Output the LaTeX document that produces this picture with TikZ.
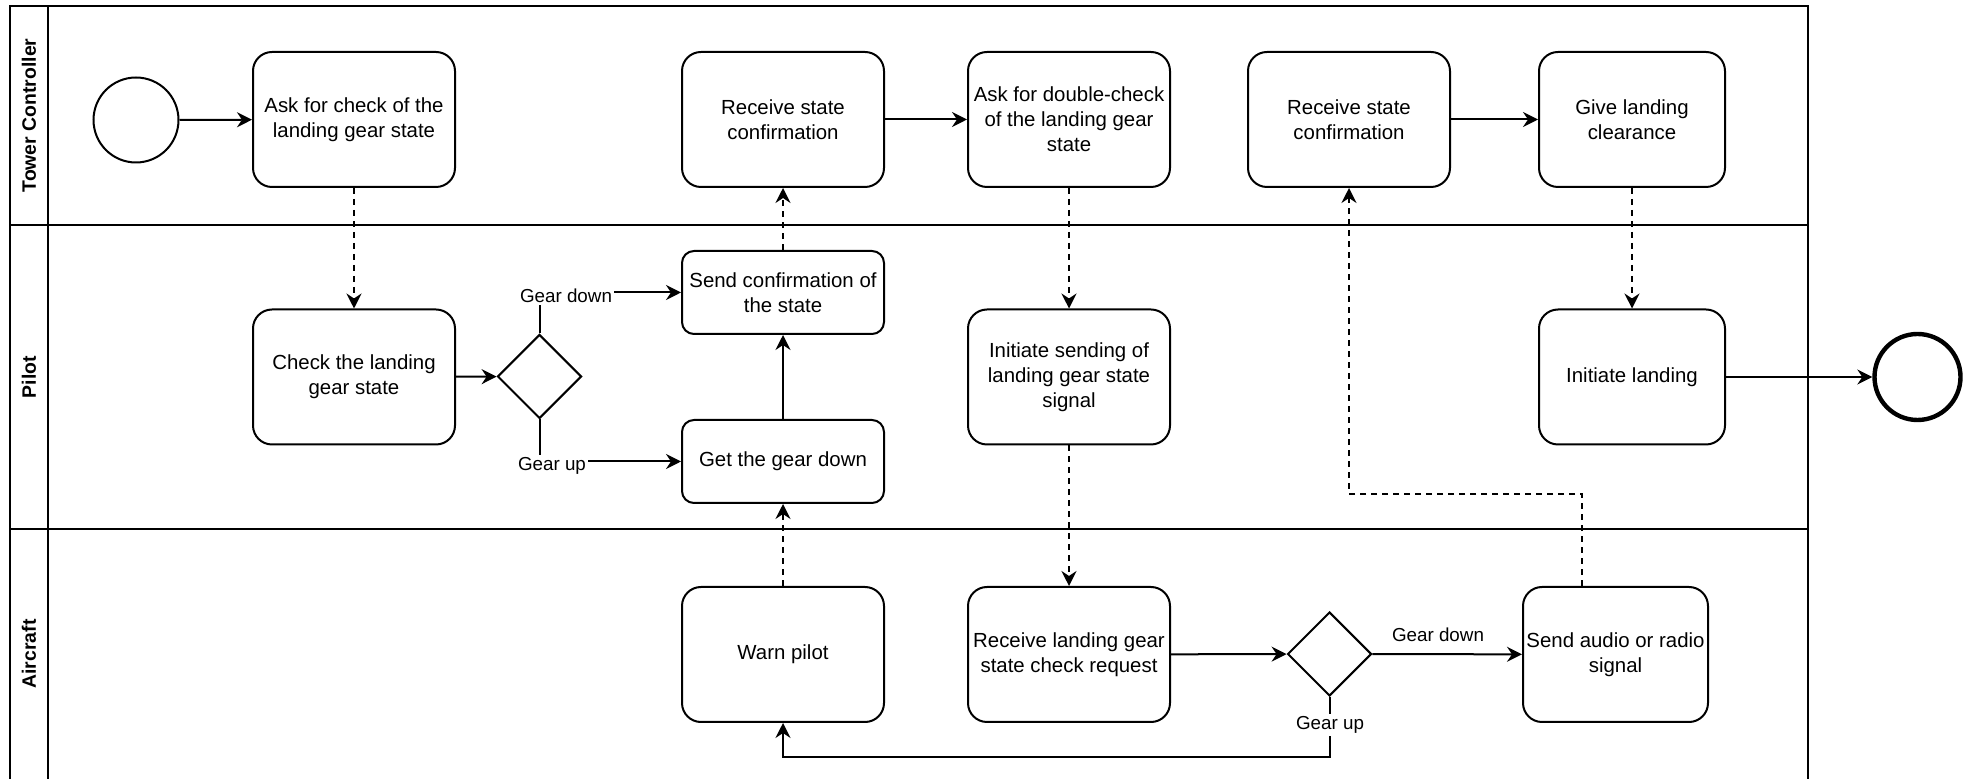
\documentclass[tikz,border=0pt]{standalone}
\usepackage{fontspec}
\setmainfont{Liberation Sans}
\usetikzlibrary{arrows.meta,shapes.geometric}

\begin{document}
\begin{tikzpicture}[x=0.5pt,y=-0.5pt,
  every node/.style={font=\fontsize{10.2pt}{12.5pt}\selectfont},
  task/.style={draw, line width=1pt, rounded corners=9.5pt, minimum width=101pt,
    minimum height=67.5pt, align=center, inner sep=1pt},
  shorttask/.style={task, rounded corners=6pt, minimum height=41.5pt},
  gate/.style={draw, diamond, line width=1pt, minimum width=42pt, minimum height=42pt, inner sep=0pt},
  startev/.style={draw, circle, line width=1pt, minimum size=42.5pt, inner sep=0pt},
  endev/.style={draw, circle, line width=2.2pt, minimum size=43pt, inner sep=0pt},
  lane/.style={line width=1pt},
  lanetitle/.style={rotate=90, font=\fontsize{9.7pt}{11pt}\selectfont\bfseries},
  flow/.style={line width=1pt, -{Stealth[length=7.5pt,width=7.5pt,inset=2.5pt]}},
  msg/.style={flow, dash pattern=on 3pt off 2.5pt},
  elabel/.style={fill=white, inner sep=1pt, font=\fontsize{9.4pt}{11pt}\selectfont},
]
\useasboundingbox (0,0) rectangle (1971,779);

% pool frame and lanes
\draw[lane] (10,779) -- (10,6) -- (1808,6) -- (1808,779);
\draw[lane] (48,6) -- (48,779);
\draw[lane] (10,225) -- (1808,225);
\draw[lane] (10,529) -- (1808,529);

\node[lanetitle] (ltower) at (29,115.5) {Tower Controller};
\node[lanetitle] (lpilot) at (29,377) {Pilot};
\node[lanetitle] (lplane) at (29,654) {Aircraft};

% tower controller lane
\node[startev] (start) at (136,120) {};
\node[task] (ask) at (354,119.5) {Ask for check of the\\landing gear state};
\node[task] (recv1) at (783,119.5) {Receive state\\confirmation};
\node[task] (askdbl) at (1069,119.5) {Ask for double-check\\of the landing gear\\state};
\node[task] (recv2) at (1349,119.5) {Receive state\\confirmation};
\node[task, minimum width=93pt] (give) at (1632,119.5) {Give landing\\clearance};

% pilot lane
\node[task] (check) at (354,377) {Check the landing\\gear state};
\node[gate] (gw1) at (539.5,376.5) {};
\node[shorttask] (sendconf) at (783,292.5) {Send confirmation of\\the state};
\node[shorttask] (getgear) at (783,461.5) {Get the gear down};
\node[task] (initsend) at (1069,377) {Initiate sending of\\landing gear state\\signal};
\node[task, minimum width=93pt] (initland) at (1632,377) {Initiate landing};
\node[endev] (stop) at (1917.5,377) {};

% aircraft lane
\node[task] (warn) at (783,654.5) {Warn pilot};
\node[task] (recvreq) at (1069,654.5) {Receive landing gear\\state check request};
\node[gate] (gw2) at (1329.5,654) {};
\node[task, minimum width=92.5pt] (sendsig) at (1615.5,654.5) {Send audio or radio\\signal};

% sequence flows
\draw[flow] (start) -- (ask);
\draw[flow] (check) -- (gw1);
\draw[flow] (gw1.north) |- (sendconf.west);
\node[elabel] (gd1) at (566,296) {Gear down};
\draw[flow] (gw1.south) |- (getgear.west);
\node[elabel] (gu1) at (552,466) {Gear up};
\draw[flow] (getgear) -- (sendconf);
\draw[flow] (recv1) -- (askdbl);
\draw[flow] (recvreq) -- (gw2);
\draw[flow] (gw2) -- (sendsig);
\node[font=\fontsize{9.4pt}{11pt}\selectfont] (gd2) at (1438,635) {Gear down};
\draw[flow] (gw2.south) -- ++(0,60) -| (warn.south);
\node[elabel] (gu2) at (1330,725) {Gear up};
\draw[flow] (recv2) -- (give);
\draw[flow] (initland) -- (stop);

% message flows
\draw[msg] (ask) -- (check);
\draw[msg] (sendconf) -- (recv1);
\draw[msg] (askdbl) -- (initsend);
\draw[msg] (initsend) -- (recvreq);
\draw[msg] (warn) -- (getgear);
\draw[msg] ([xshift=-16.75pt]sendsig.north) -- ++(0,-92) -| (recv2.south);
\draw[msg] (give) -- (initland);
\end{tikzpicture}
\end{document}
